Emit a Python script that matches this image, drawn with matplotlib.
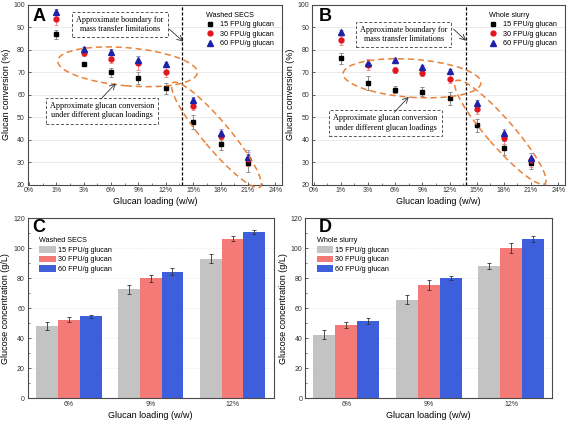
import numpy as np
import matplotlib
matplotlib.use('Agg')
import matplotlib.pyplot as plt
from matplotlib.patches import Ellipse
from matplotlib.lines import Line2D
from matplotlib.transforms import ScaledTranslation

plt.rcParams['font.family'] = ['Liberation Sans', 'DejaVu Sans']

# glucan conversion (%) at 1,3,6,9,12,15,18,21 % glucan loading
loading_labels = ['0%', '1%', '3%', '6%', '9%', '12%', '15%', '18%', '21%', '24%']
enzyme_labels = ['15 FPU/g glucan', '30 FPU/g glucan', '60 FPU/g glucan']

a_15 = [86.8, 73.6, 70.0, 67.4, 62.9, 47.9, 38.0, 29.8]
a_15_err = [2.0, 1.0, 2.0, 2.5, 2.5, 3.0, 2.5, 4.0]
a_30 = [93.6, 78.7, 76.0, 74.0, 70.2, 55.0, 41.8, 31.4]
a_30_err = [2.5, 1.5, 2.0, 3.0, 2.5, 2.0, 2.0, 3.0]
a_60 = [96.8, 80.4, 79.1, 75.4, 73.5, 57.6, 42.9, 32.2]
a_60_err = [1.5, 1.0, 1.0, 2.0, 1.0, 1.5, 2.0, 3.0]

b_15 = [76.2, 65.3, 62.2, 61.3, 58.4, 46.4, 36.4, 29.5]
b_15_err = [2.5, 3.0, 1.5, 2.0, 3.0, 3.0, 3.0, 2.5]
b_30 = [84.2, 73.4, 71.0, 69.6, 67.1, 53.6, 40.6, 30.9]
b_30_err = [2.0, 2.5, 1.5, 1.5, 2.0, 2.0, 2.5, 3.0]
b_60 = [87.7, 74.1, 75.3, 72.3, 70.5, 56.3, 42.8, 31.7]
b_60_err = [1.0, 1.5, 1.0, 1.0, 1.0, 1.5, 2.0, 2.5]

# glucose concentration (g/L) at 6, 9, 12 % glucan loading
bar_labels = ['6%', '9%', '12%']
c_15 = [48.1, 72.6, 93.1]
c_15_err = [2.9, 2.9, 3.2]
c_30 = [52.3, 79.9, 106.4]
c_30_err = [1.7, 2.1, 1.6]
c_60 = [54.6, 84.4, 110.9]
c_60_err = [0.9, 2.2, 1.3]

d_15 = [42.3, 65.7, 88.2]
d_15_err = [3.1, 3.0, 2.2]
d_30 = [49.0, 75.5, 100.0]
d_30_err = [2.0, 3.1, 3.4]
d_60 = [51.4, 80.4, 106.0]
d_60_err = [2.0, 1.3, 2.1]

orange = '#e8823a'
frame_col = '#4a4a4a'
tick_col = '#333333'

fig = plt.figure(figsize=(5.67, 4.24), dpi=100)
axA = fig.add_axes([0.0489, 0.5644, 0.4485, 0.4245])
axB = fig.add_axes([0.5508, 0.5644, 0.4457, 0.4245])
axC = fig.add_axes([0.0489, 0.0613, 0.4335, 0.4238])
axD = fig.add_axes([0.5379, 0.0613, 0.4362, 0.4238])


def style_frame(ax):
    for s in ax.spines.values():
        s.set_color(frame_col)
        s.set_linewidth(0.8)
    ax.tick_params(direction='in', length=2, width=0.6, color=frame_col,
                   labelsize=5, labelcolor=tick_col, pad=2)
    ax.tick_params(which='minor', direction='in', length=1.2, width=0.5, color=frame_col)


def oval(ax, x, y, w, h, ang):
    tr = fig.dpi_scale_trans + ScaledTranslation(x, y, ax.transData)
    ax.add_patch(Ellipse((0, 0), w, h, angle=ang, transform=tr, fill=False,
                         ec=orange, ls=(0, (4, 2.5)), lw=1.1, clip_on=False, zorder=4))


def note(ax, x, y, txt, xy_from, xy_to):
    ax.text(x, y, txt, ha='center', va='center', family='Liberation Serif',
            fontsize=5.9, linespacing=1.2, zorder=5,
            bbox=dict(boxstyle='square,pad=0.5', fc='white', ec='#555555',
                      ls=(0, (3, 2)), lw=0.7))
    ax.annotate('', xy=xy_to, xytext=xy_from,
                arrowprops=dict(arrowstyle='->', color='#333333', lw=0.6,
                                shrinkA=0, shrinkB=0), zorder=5)


def conversion_panel(ax, s15, e15, s30, e30, s60, e60, letter, letter_x, title, ov, boxes):
    pos = np.arange(1, 9)
    ax.set_xlim(-0.05, 9.25)
    ax.set_ylim(20, 100)
    ax.set_yticks(np.arange(20, 101, 10))
    ax.set_xticks(np.arange(len(loading_labels)))
    ax.set_xticklabels(loading_labels)
    ax.set_xticks(np.arange(0.5, 9.5, 1), minor=True)
    ax.grid(axis='y', color='#e6e6e6', lw=0.6)
    ax.set_axisbelow(True)
    style_frame(ax)

    ax.errorbar(pos, s15, yerr=e15, fmt='s', ms=3.2, color='black', ecolor='#8c8c8c',
                elinewidth=0.7, capsize=1.5, capthick=0.7, zorder=3)
    ax.errorbar(pos, s30, yerr=e30, fmt='o', ms=3.5, color='#e3151d', ecolor='#f08c8c',
                elinewidth=0.7, capsize=1.5, capthick=0.7, zorder=3)
    ax.errorbar(pos, s60, yerr=e60, fmt='^', ms=3.8, color='#1d22a8', ecolor='#9a9ad8',
                elinewidth=0.7, capsize=1.5, capthick=0.7, zorder=3)

    ax.axvline(5.6, color='black', ls=(0, (2.5, 1.5)), lw=0.9, zorder=2)

    for o in ov:
        oval(ax, *o)
    for b in boxes:
        note(ax, *b)

    handles = [Line2D([], [], ls='none', marker='s', ms=3.2, color='black'),
               Line2D([], [], ls='none', marker='o', ms=3.5, color='#e3151d'),
               Line2D([], [], ls='none', marker='^', ms=3.8, color='#1d22a8')]
    leg = ax.legend(handles, enzyme_labels, title=title, loc='upper right',
                    bbox_to_anchor=(0.985, 0.985), frameon=False, fontsize=5.2,
                    title_fontsize=5.2, handletextpad=0.9, labelspacing=0.35,
                    borderaxespad=0.2, handlelength=1.1, alignment='left')
    leg.set_zorder(6)
    ax.text(letter_x, 0.908, letter, transform=ax.transAxes, fontsize=13,
            fontweight='bold', va='baseline', ha='left', zorder=6)
    ax.set_xlabel('Glucan loading (w/w)', fontsize=6.5, labelpad=2)
    ax.set_ylabel('Glucan conversion (%)', fontsize=6.5, labelpad=2)


conversion_panel(axA, a_15, a_15_err, a_30, a_30_err, a_60, a_60_err, 'A', 0.018, 'Washed SECS',
                 [(3.6, 72.4, 1.40, 0.38, -5), (6.85, 42.1, 1.36, 0.27, -50)],
                 [(3.32, 91.2, 'Approximate boundary for\nmass transfer limitations',
                   (5.12, 89.2), (5.64, 83.6)),
                  (2.66, 52.8, 'Approximate glucan conversion\nunder different glucan loadings',
                   (2.63, 58.1), (3.17, 65.1))])

conversion_panel(axB, b_15, b_15_err, b_30, b_30_err, b_60, b_60_err, 'B', 0.027, 'Whole slurry',
                 [(3.62, 67.3, 1.38, 0.38, -4), (6.87, 43.3, 1.36, 0.27, -49)],
                 [(3.31, 86.8, 'Approximate boundary for\nmass transfer limitations',
                   (5.15, 89.1), (5.61, 84.0)),
                  (2.65, 47.4, 'Approximate glucan conversion\nunder different glucan loadings',
                   (2.97, 52.2), (3.50, 59.1))])


def glucose_panel(ax, s15, e15, s30, e30, s60, e60, letter, letter_x, title):
    x = np.arange(len(bar_labels))
    w = 0.267
    ek = dict(ecolor='#333333', elinewidth=0.6, capthick=0.6)
    ax.bar(x - w, s15, w, yerr=e15, color='#c3c3c3', capsize=1.5, error_kw=ek,
           label=enzyme_labels[0], zorder=2)
    ax.bar(x, s30, w, yerr=e30, color='#f47a78', capsize=1.5, error_kw=ek,
           label=enzyme_labels[1], zorder=2)
    ax.bar(x + w, s60, w, yerr=e60, color='#3d5fdc', capsize=1.5, error_kw=ek,
           label=enzyme_labels[2], zorder=2)
    ax.set_xlim(-0.5, 2.5)
    ax.set_ylim(0, 120)
    ax.set_yticks(np.arange(0, 121, 20))
    ax.set_yticks(np.arange(0, 121, 10), minor=True)
    ax.set_xticks(x)
    ax.set_xticklabels(bar_labels)
    ax.grid(axis='y', color='#e0e0e0', lw=0.5, ls=(0, (1, 1.5)))
    ax.set_axisbelow(True)
    style_frame(ax)
    ax.tick_params(axis='x', length=0)
    ax.legend(title=title, loc='upper left', bbox_to_anchor=(0.035, 0.91),
              frameon=False, fontsize=5.2, title_fontsize=5.2,
              handlelength=2.3, handleheight=1.0, handletextpad=0.3,
              labelspacing=0.25, borderaxespad=0, alignment='left')
    ax.text(letter_x, 0.925, letter, transform=ax.transAxes, fontsize=13,
            fontweight='bold', va='baseline', ha='left')
    ax.set_xlabel('Glucan loading (w/w)', fontsize=6.5, labelpad=2)
    ax.set_ylabel('Glucose concentration (g/L)', fontsize=6.5, labelpad=2)


glucose_panel(axC, c_15, c_15_err, c_30, c_30_err, c_60, c_60_err, 'C', 0.019, 'Washed SECS')
glucose_panel(axD, d_15, d_15_err, d_30, d_30_err, d_60, d_60_err, 'D', 0.054, 'Whole slurry')

fig.savefig('out.png', dpi=100)
